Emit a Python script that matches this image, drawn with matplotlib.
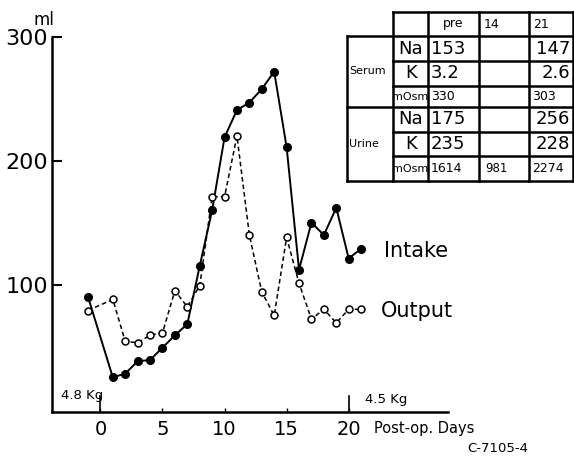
import matplotlib
matplotlib.use("Agg")
import matplotlib.pyplot as plt

plt.rcParams['font.family'] = ['DejaVu Sans']

# chart data
days = [-1, 1, 2, 3, 4, 5, 6, 7, 8, 9, 10, 11, 12, 13, 14, 15, 16, 17, 18, 19, 20, 21]
intake = [90, 25, 28, 38, 39, 49, 59, 68, 115, 160, 219, 241, 247, 258, 272, 211,
          112, 150, 140, 162, 121, 129]
output = [79, 88, 54, 53, 59, 61, 95, 82, 99, 171, 171, 220, 140, 94, 75, 138,
          101, 72, 80, 69, 80, 80]
yticks = [100, 200, 300]
xticks = [0, 5, 10, 15, 20]
weights = [(0, "4.8 Kg"), (20, "4.5 Kg")]

# table data
tbl_header = ["pre", "14", "21"]
tbl_groups = ["Serum", "Urine"]
tbl_rows = ["Na", "K", "mOsm"]
serum_vals = [["153", "", "147"], ["3.2", "", "2.6"], ["330", "", "303"]]
urine_vals = [["175", "", "256"], ["235", "", "228"], ["1614", "981", "2274"]]

W, H = 574, 457
fig = plt.figure(figsize=(W / 100, H / 100), dpi=100)

ax = fig.add_axes([52 / W, 1 - 412 / H, (448 - 52) / W, (412 - 37) / H])
ax.plot(days, intake, color="black", lw=1.4, marker="o", ms=5.5,
        mfc="black", mec="black")
ax.plot(days, output, color="black", lw=1.1, ls=(0, (3, 2)), marker="o", ms=5,
        mfc="white", mec="black", mew=1.1)
ax.set_xlim(-3.9, 28)
ax.set_ylim(-3, 300)
ax.spines[['top', 'right']].set_visible(False)
ax.spines[['left', 'bottom']].set_linewidth(1.8)
ax.set_yticks(yticks)
ax.set_xticks(xticks)
ax.tick_params(axis='y', direction='in', length=7, width=1.5, labelsize=16, pad=3)
ax.tick_params(axis='x', direction='in', length=3, width=1, labelsize=14, pad=6)

for d, lab in weights:
    ax.plot([d, d], [-3, 10], color="black", lw=1.2, clip_on=False)

# overlay in pixel coords for annotations and the table
ov = fig.add_axes([0, 0, 1, 1])
ov.set_xlim(0, W)
ov.set_ylim(H, 0)
ov.axis('off')

ov.text(44, 20, "ml", fontsize=12, ha='center', va='center')
ov.text(384, 251, "Intake", fontsize=15, ha='left', va='center')
ov.text(381, 311, "Output", fontsize=15, ha='left', va='center')
ov.text(374, 428, "Post-op. Days", fontsize=10.5, ha='left', va='center')
ov.text(467, 448, "C-7105-4", fontsize=9.5, ha='left', va='center')
ov.text(61, 395, weights[0][1], fontsize=9.5, ha='left', va='center')
ov.text(365, 399, weights[1][1], fontsize=9.5, ha='left', va='center')

cols = [347, 393, 428, 479, 529, 573]
rows = [12, 36, 61, 86, 107, 132, 156, 181]
lw = 1.8
for y in rows:
    x0 = 347 if y in (36, 107, 181) else 393
    ov.plot([x0, 573], [y, y], color="black", lw=lw)
for x in cols:
    y0 = 36 if x == 347 else 12
    ov.plot([x, x], [y0, 181], color="black", lw=lw)

hx = [453, 484, 533]
for x, t, ha in zip(hx, tbl_header, ['center', 'left', 'left']):
    ov.text(x, 24, t, fontsize=9, ha=ha, va='center')

for gi, (grp, vals) in enumerate(zip(tbl_groups, [serum_vals, urine_vals])):
    top = rows[1 + 3 * gi]
    ov.text(349, (top + rows[4 + 3 * gi]) / 2, grp, fontsize=8, ha='left', va='center')
    for ri, (rname, rv) in enumerate(zip(tbl_rows, vals)):
        yc = (rows[1 + 3 * gi + ri] + rows[2 + 3 * gi + ri]) / 2
        big = rname != "mOsm"
        fs = 13 if big else 8
        ov.text(411 if big else 410, yc, rname, fontsize=fs, ha='center', va='center')
        for ci, v in enumerate(rv):
            if not v:
                continue
            if ci == 0:
                ov.text(431, yc, v, fontsize=fs if big else 9, ha='left', va='center')
            elif ci == 1:
                ov.text(485, yc, v, fontsize=8.5, ha='left', va='center')
            else:
                ov.text(570 if big else 532, yc, v, fontsize=fs if big else 9,
                        ha='right' if big else 'left', va='center')

fig.savefig("out.png", dpi=100)
